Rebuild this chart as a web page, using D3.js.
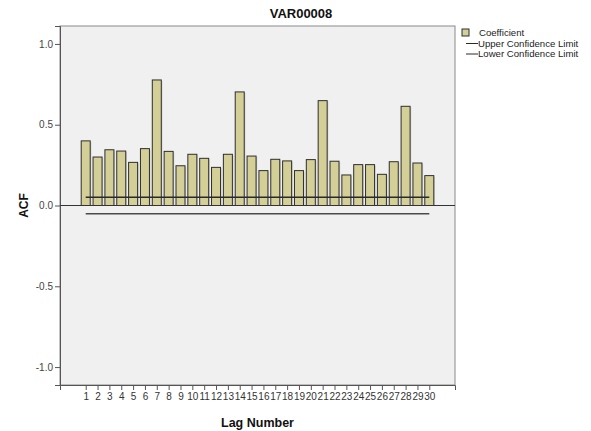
<!DOCTYPE html>
<html>
<head>
<meta charset="utf-8">
<script src="https://cdn.jsdelivr.net/npm/d3@7"></script>
<style>
  body { margin: 0; background: #fff; }
  svg { display: block; font-family: "Liberation Sans", Arial, sans-serif; }
</style>
</head>
<body>
<svg id="chart" width="591" height="431"></svg>
<script>
const title = "VAR00008";
const lags = d3.range(1, 31);
const coefficients = [0.40, 0.30, 0.345, 0.337, 0.267, 0.352, 0.777, 0.335, 0.246, 0.317,
                      0.292, 0.236, 0.317, 0.703, 0.306, 0.216, 0.286, 0.276, 0.216, 0.284,
                      0.649, 0.274, 0.189, 0.253, 0.253, 0.193, 0.271, 0.614, 0.263, 0.185];
const upperLimit = 0.051;
const lowerLimit = -0.051;
const yTicks = [1.0, 0.5, 0.0, -0.5, -1.0];
const yTickLabels = ["1.0", "0.5", "0.0", "-0.5", "-1.0"];
const legendLabels = ["Coefficient", "Upper Confidence Limit", "Lower Confidence Limit"];

const svg = d3.select("#chart");
const L = 60, R = 455, T = 26, B = 385;

const x = d3.scalePoint().domain(lags).range([L, R]).padding(2.17);
const y = d3.scaleLinear().domain([-1.111, 1.111]).range([B, T]);

// plot background
svg.append("rect").attr("x", L).attr("y", T).attr("width", R - L).attr("height", B - T)
  .attr("fill", "#f0f0f0").attr("stroke", "#8a8a8a").attr("stroke-width", 1);

// y axis
const yAxis = svg.append("g").attr("transform", `translate(${L},0)`)
  .call(d3.axisLeft(y).tickValues(yTicks).tickFormat((d, i) => yTickLabels[i]).tickSize(5).tickPadding(2));
yAxis.select(".domain").attr("stroke", "#555");
yAxis.selectAll(".tick line").attr("stroke", "#555");
yAxis.selectAll("text").attr("font-size", 10).attr("fill", "#444")
  .attr("font-family", "'Liberation Sans', Arial, sans-serif");

// x axis
const xAxis = svg.append("g").attr("transform", `translate(0,${B})`)
  .call(d3.axisBottom(x).tickSize(5).tickPadding(3));
xAxis.select(".domain").attr("stroke", "#555");
xAxis.selectAll(".tick line").attr("stroke", "#555");
xAxis.selectAll("text").attr("font-size", 10).attr("fill", "#333")
  .attr("font-family", "'Liberation Sans', Arial, sans-serif");

// bars
const bw = 9;
svg.append("g").selectAll("rect.shadow").data(coefficients).join("rect")
  .attr("x", (d, i) => x(lags[i]) - bw / 2 + 1.2)
  .attr("y", d => y(d) + 1)
  .attr("width", bw).attr("height", d => y(0) - y(d) - 1)
  .attr("fill", "#000").attr("opacity", 0.12);
svg.append("g").selectAll("rect.bar").data(coefficients).join("rect")
  .attr("x", (d, i) => x(lags[i]) - bw / 2)
  .attr("y", d => y(d))
  .attr("width", bw).attr("height", d => y(0) - y(d))
  .attr("fill", "#d3cf97").attr("stroke", "#2e2e2e").attr("stroke-width", 1);

// zero line
svg.append("line").attr("x1", L).attr("x2", R).attr("y1", y(0)).attr("y2", y(0))
  .attr("stroke", "#333").attr("stroke-width", 1.2);

// confidence limits
svg.append("line").attr("x1", x(lags[0])).attr("x2", x(lags[lags.length - 1]))
  .attr("y1", y(upperLimit)).attr("y2", y(upperLimit))
  .attr("stroke", "#2a2a2a").attr("stroke-width", 1.4);
svg.append("line").attr("x1", x(lags[0])).attr("x2", x(lags[lags.length - 1]))
  .attr("y1", y(lowerLimit)).attr("y2", y(lowerLimit))
  .attr("stroke", "#4a4a4a").attr("stroke-width", 1.4);

// title
svg.append("text").attr("x", 301).attr("y", 18).attr("text-anchor", "middle")
  .attr("font-size", 13).attr("font-weight", "bold").attr("fill", "#111").text(title);

// axis titles
svg.append("text").attr("transform", `translate(28,${y(0)}) rotate(-90)`)
  .attr("text-anchor", "middle").attr("font-size", 12).attr("font-weight", "bold")
  .attr("fill", "#111").text("ACF");
svg.append("text").attr("x", (L + R) / 2).attr("y", 427).attr("text-anchor", "middle")
  .attr("font-size", 12.5).attr("font-weight", "bold").attr("fill", "#111").text("Lag Number");

// legend
const lg = svg.append("g").attr("font-size", 9.6).attr("fill", "#222");
lg.append("rect").attr("x", 462).attr("y", 29).attr("width", 7).attr("height", 7)
  .attr("fill", "#d3cf97").attr("stroke", "#2e2e2e").attr("stroke-width", 1);
lg.append("text").attr("x", 479).attr("y", 36).text(legendLabels[0]);
lg.append("line").attr("x1", 466).attr("x2", 478).attr("y1", 43.5).attr("y2", 43.5)
  .attr("stroke", "#2a2a2a").attr("stroke-width", 1);
lg.append("text").attr("x", 478).attr("y", 46.5).text(legendLabels[1]);
lg.append("line").attr("x1", 466).attr("x2", 478).attr("y1", 54).attr("y2", 54)
  .attr("stroke", "#2a2a2a").attr("stroke-width", 1);
lg.append("text").attr("x", 478).attr("y", 57).text(legendLabels[2]);
</script>
</body>
</html>
